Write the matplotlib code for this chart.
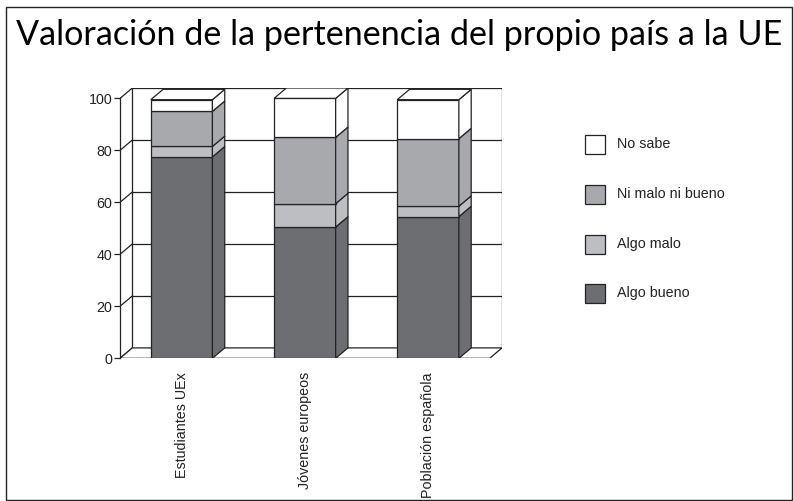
import matplotlib
matplotlib.use("Agg")
import matplotlib.pyplot as plt
from matplotlib.patches import Polygon, Rectangle

# --- data ---
groups = ["Estudiantes UEx", "Jóvenes europeos", "Población española"]
series_names = ["Algo bueno", "Algo malo", "Ni malo ni bueno", "No sabe"]
algo_bueno = [77.5, 50.5, 54.5]
algo_malo = [4.0, 9.0, 4.0]
ni_malo_ni_bueno = [13.5, 25.5, 26.0]
no_sabe = [4.5, 15.0, 15.0]
y_ticks = [0, 20, 40, 60, 80, 100]
title = "Valoración de la pertenencia del propio país a la UE"

colors = ["#6d6e72", "#bdbec2", "#a8a9ad", "#ffffff"]
W, H = 794, 501
DX, DY = 0.1, 4.0  # 3d depth in data units
BAR_W = 0.5
FS = 10.3

plt.rcParams["font.family"] = ["Liberation Sans", "DejaVu Sans"]


def fx(px):
    return px / W


def fy(py):
    return 1 - py / H


fig = plt.figure(figsize=(W / 100, H / 100), dpi=100)
ax = fig.add_axes([fx(120), fy(358.3), fx(502) - fx(120), fy(88) - fy(358.3)])
ax.set_xlim(-0.5, 2.5 + DX)
ax.set_ylim(0, 100 + DY)
ax.patch.set_visible(False)

x0, x1 = -0.5, len(groups) - 0.5
line_kw = dict(color="#222222", lw=0.9, zorder=1)

# back wall grid + side wall diagonals
for v in y_ticks[1:]:
    ax.plot([x0 + DX, x1 + DX], [v + DY, v + DY], **line_kw)
for v in y_ticks:
    ax.plot([x0, x0 + DX], [v, v + DY], **line_kw)
ax.plot([x0 + DX, x0 + DX], [DY, 100 + DY], **line_kw)
ax.plot([x1 + DX, x1 + DX], [DY, 100 + DY], **line_kw)

# floor
ax.add_patch(Polygon([(x0, 0), (x1, 0), (x1 + DX, DY), (x0 + DX, DY)],
                     closed=True, facecolor="white", edgecolor="#222222",
                     lw=0.9, zorder=2))

# bars
stack = [algo_bueno, algo_malo, ni_malo_ni_bueno, no_sabe]
bottoms = [0.0] * len(groups)
for vals, col in zip(stack, colors):
    for i, h in enumerate(vals):
        b = bottoms[i]
        ax.bar(i, h, bottom=b, width=BAR_W, color=col, edgecolor="#222222",
               lw=0.9, zorder=3)
        xr = i + BAR_W / 2
        ax.add_patch(Polygon([(xr, b), (xr + DX, b + DY), (xr + DX, b + h + DY), (xr, b + h)],
                             closed=True, facecolor=col, edgecolor="#222222",
                             lw=0.9, zorder=3))
        bottoms[i] = b + h
for i, top in enumerate(bottoms):
    xl, xr = i - BAR_W / 2, i + BAR_W / 2
    ax.add_patch(Polygon([(xl, top), (xl + DX, top + DY), (xr + DX, top + DY), (xr, top)],
                         closed=True, facecolor=colors[-1], edgecolor="#222222",
                         lw=0.9, zorder=3))

# axes
for s in ("top", "right", "bottom"):
    ax.spines[s].set_visible(False)
ax.spines["left"].set_bounds(0, 100)
ax.spines["left"].set_color("#222222")
ax.spines["left"].set_linewidth(0.9)
ax.set_yticks(y_ticks)
ax.tick_params(axis="y", length=4, width=0.9, color="#222222", pad=1.5,
               labelsize=FS, labelcolor="#222222")
ax.set_xticks(range(len(groups)))
ax.set_xticklabels(groups, rotation=90, va="top", ha="center")
ax.tick_params(axis="x", length=0, pad=10, labelsize=FS, labelcolor="#222222")

# legend
legend_y = [293, 244, 194, 144]
for name, col, yc in zip(series_names, colors, legend_y):
    fig.add_artist(Rectangle((fx(585), fy(yc + 9.5)), fx(20), fy(0) - fy(19),
                             transform=fig.transFigure, facecolor=col,
                             edgecolor="#222222", lw=0.9))
    fig.text(fx(617), fy(yc), name, ha="left", va="center", fontsize=FS,
             color="#222222")

fig.text(fx(399), fy(45), title, ha="center", va="baseline", fontsize=24.6,
         family=["Lato", "DejaVu Sans"])

# frame
fig.add_artist(Rectangle((fx(6), fy(499.5)), fx(786), fy(7) - fy(499.5),
                         transform=fig.transFigure, fill=False,
                         edgecolor="#222222", lw=1.0))

fig.savefig("out.png", dpi=100)
